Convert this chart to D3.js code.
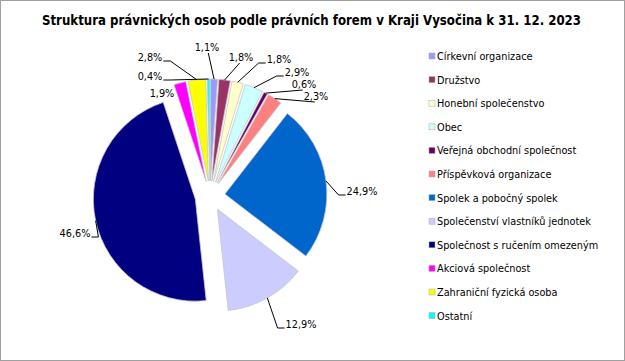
<!DOCTYPE html>
<html><head><meta charset="utf-8">
<script src="https://cdn.jsdelivr.net/npm/d3@7/dist/d3.min.js"></script>
<style>body{margin:0;background:#fff}svg{display:block}</style>
</head><body>
<svg id="c" width="625" height="361"></svg>
<script>
const titleText = "Struktura právnických osob podle právních forem v Kraji Vysočina k 31. 12. 2023";
const categories = ["Církevní organizace","Družstvo","Honební společenstvo","Obec","Veřejná obchodní společnost","Příspěvková organizace","Spolek a pobočný spolek","Společenství vlastníků jednotek","Společnost s ručením omezeným","Akciová společnost","Zahraniční fyzická osoba","Ostatní"];
const values = [1.1,1.8,1.8,2.9,0.6,2.3,24.9,12.9,46.6,1.9,2.8,0.4];
const labels = ["1,1%","1,8%","1,8%","2,9%","0,6%","2,3%","24,9%","12,9%","46,6%","1,9%","2,8%","0,4%"];
const colors = ["#9999FF","#993366","#FFFFCC","#CCFFFF","#660066","#FF8080","#0066CC","#CCCCFF","#000080","#FF00FF","#FFFF00","#00FFFF"];

// label placement (offsets of text centre from pie centre) and elbow side
const labelOffsets = [[-3,-149],[31,-139],[69,-137],[87,-124],[94,-112],[106,-100],[152,-5],[91,128],[-135,37],[-48,-103],[-60,-139],[-60,-120]];
const elbow = [0,0,-1,-1,0,0,-1,-1,1,null,1,1];

const svg = d3.select("#c");
const font = "'DejaVu Sans Condensed','DejaVu Sans',sans-serif";
svg.append("rect").attr("x",0.5).attr("y",0.5).attr("width",624).attr("height",360)
  .attr("fill","#fff").attr("stroke","#a0a0a0");

svg.append("text").attr("x",42).attr("y",25).attr("textLength",539).attr("lengthAdjust","spacingAndGlyphs")
  .attr("font-family",font).attr("font-weight","bold").attr("font-size",13.5).attr("fill","#000").text(titleText);

const cx=210, cy=196, R=102, ex=15;
const pie = d3.pie().sort(null).value(d=>d)(values);
const arc = d3.arc().innerRadius(0).outerRadius(R);
const g = svg.append("g").attr("transform",`translate(${cx},${cy})`);
pie.forEach((p,i)=>{
  const m=(p.startAngle+p.endAngle)/2;
  const dx=Math.sin(m)*ex, dy=-Math.cos(m)*ex;
  g.append("path").attr("d",arc(p)).attr("transform",`translate(${dx},${dy})`)
   .attr("fill",colors[i]).attr("stroke","#c8c8c8").attr("stroke-width",0.8);
  const [ox,oy]=labelOffsets[i];
  const t=g.append("text").attr("x",ox).attr("y",oy+4).attr("text-anchor","middle")
    .attr("font-family",font).attr("font-size",10.8).attr("fill","#000").text(labels[i]);
  if(elbow[i]===null) return;
  const w=t.node().getComputedTextLength();
  const px=dx+Math.sin(m)*R, py=dy-Math.cos(m)*R;
  let pts;
  if(elbow[i]===0){ pts=[[ox+ (px>ox?w/2-8:-w/2+8)*0.3, oy+6],[px,py]]; }
  else if(elbow[i]===-1){ const sx=ox-w/2-1; pts=[[sx,oy+4],[sx-7,oy+4],[px,py]]; }
  else { const sx=ox+w/2+1; pts=[[sx,oy+4],[sx+7,oy+4],[px,py]]; }
  g.append("path").attr("d",d3.line()(pts)).attr("fill","none").attr("stroke","#000").attr("stroke-width",1);
});

const lg = svg.append("g").attr("transform","translate(429,56)");
categories.forEach((c,i)=>{
  const y=i*23.6;
  lg.append("rect").attr("x",0).attr("y",y-3).attr("width",6).attr("height",6).attr("fill",colors[i])
    .attr("stroke","#aaa").attr("stroke-width",0.5);
  lg.append("text").attr("x",8).attr("y",y+4).attr("font-family",font).attr("font-size",10.8).attr("fill","#000").text(c);
});
</script>
</body></html>
